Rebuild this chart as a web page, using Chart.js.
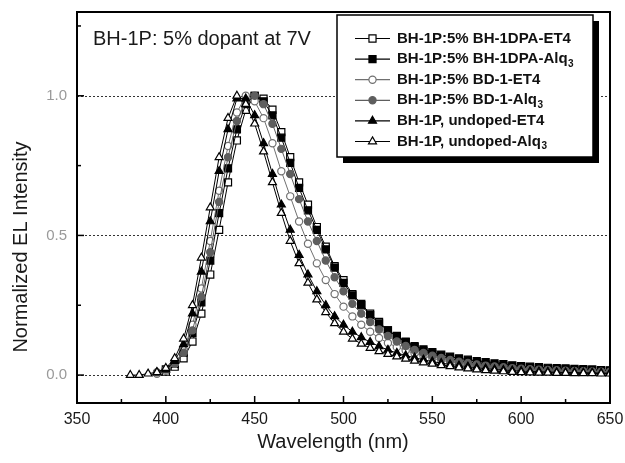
<!DOCTYPE html>
<html>
<head>
<meta charset="utf-8">
<script src="https://cdn.jsdelivr.net/npm/chart.js@4.4.1/dist/chart.umd.min.js"></script>
<style>
    body { margin: 0; background: #fff; }
    #wrap { width: 625px; height: 463px; }
</style>
</head>
<body>
<div id="wrap"><canvas id="elChart" width="625" height="463"></canvas></div>
<script>
// wavelength grid (nm) and normalized EL, null = no point
const wavelengths = [380, 385, 390, 395, 400, 405, 410, 415, 420, 425, 430, 435, 440, 445, 450, 455, 460, 465, 470, 475,
    480, 485, 490, 495, 500, 505, 510, 515, 520, 525, 530, 535, 540, 545, 550, 555, 560, 565, 570, 575,
    580, 585, 590, 595, 600, 605, 610, 615, 620, 625, 630, 635, 640, 645, 650];

const dpaEt4 = [null, null, null, null, 0.012, 0.03, 0.06, 0.12, 0.22, 0.36, 0.52, 0.69, 0.84, 0.95, 1.0, 0.99, 0.95, 0.87, 0.78, 0.69,
    0.61, 0.53, 0.46, 0.39, 0.34, 0.29, 0.255, 0.22, 0.19, 0.16, 0.138, 0.118, 0.10, 0.087, 0.076, 0.067, 0.059, 0.052, 0.047, 0.042,
    0.038, 0.035, 0.032, 0.03, 0.028, 0.026, 0.024, 0.022, 0.021, 0.02, 0.019, 0.018, 0.017, 0.016, 0.015];

const dpaAlq3 = [null, null, null, null, 0.02, 0.04, 0.08, 0.15, 0.26, 0.41, 0.58, 0.74, 0.88, 0.97, 1.0, 0.98, 0.93, 0.85, 0.76, 0.67,
    0.59, 0.52, 0.45, 0.385, 0.33, 0.285, 0.25, 0.215, 0.185, 0.16, 0.14, 0.12, 0.104, 0.092, 0.082, 0.073, 0.066, 0.06, 0.055, 0.05,
    0.046, 0.042, 0.039, 0.035, 0.032, 0.03, 0.028, 0.026, 0.025, 0.024, 0.022, 0.021, 0.02, 0.018, 0.017];

const bd1Et4 = [null, null, null, 0.005, 0.015, 0.04, 0.09, 0.18, 0.31, 0.48, 0.66, 0.82, 0.94, 1.0, 0.98, 0.92, 0.83, 0.73, 0.64, 0.55,
    0.47, 0.40, 0.34, 0.29, 0.245, 0.21, 0.18, 0.155, 0.133, 0.115, 0.10, 0.088, 0.077, 0.068, 0.06, 0.053, 0.047, 0.042, 0.037, 0.033,
    0.03, 0.027, 0.024, 0.022, 0.02, 0.018, 0.017, 0.016, 0.015, 0.014, 0.013, 0.012, 0.011, 0.011, 0.01];

const bd1Alq3 = [null, null, null, 0.01, 0.02, 0.04, 0.08, 0.16, 0.28, 0.44, 0.62, 0.78, 0.91, 0.98, 1.0, 0.97, 0.90, 0.81, 0.72, 0.63,
    0.55, 0.48, 0.41, 0.35, 0.30, 0.255, 0.22, 0.19, 0.163, 0.14, 0.12, 0.104, 0.09, 0.079, 0.069, 0.061, 0.054, 0.048, 0.043, 0.038,
    0.034, 0.031, 0.028, 0.025, 0.023, 0.021, 0.019, 0.018, 0.017, 0.016, 0.015, 0.014, 0.013, 0.012, 0.012];

const undopedEt4 = [null, null, null, 0.01, 0.02, 0.05, 0.11, 0.22, 0.37, 0.55, 0.73, 0.88, 0.99, 0.99, 0.93, 0.83, 0.72, 0.61, 0.52, 0.43,
    0.36, 0.30, 0.25, 0.21, 0.18, 0.155, 0.135, 0.118, 0.103, 0.09, 0.079, 0.07, 0.062, 0.055, 0.048, 0.043, 0.038, 0.034, 0.03, 0.026,
    0.023, 0.02, 0.018, 0.016, 0.014, 0.013, 0.012, 0.011, 0.01, 0.009, 0.009, 0.008, 0.008, 0.007, 0.007];

const undopedAlq3 = [0, 0, 0.005, 0.01, 0.025, 0.06, 0.13, 0.25, 0.42, 0.60, 0.78, 0.92, 1.0, 0.97, 0.90, 0.80, 0.69, 0.58, 0.48, 0.40,
    0.33, 0.27, 0.225, 0.185, 0.155, 0.13, 0.112, 0.097, 0.085, 0.075, 0.066, 0.058, 0.051, 0.045, 0.04, 0.035, 0.031, 0.027, 0.023, 0.02,
    0.017, 0.015, 0.013, 0.011, 0.01, 0.009, 0.008, 0.008, 0.007, 0.007, 0.006, 0.006, 0.006, 0.005, 0.005];

const seriesNames = ['BH-1P:5% BH-1DPA-ET4', 'BH-1P:5% BH-1DPA-Alq3', 'BH-1P:5% BD-1-ET4',
    'BH-1P:5% BD-1-Alq3', 'BH-1P, undoped-ET4', 'BH-1P, undoped-Alq3'];
const seriesValues = [dpaEt4, dpaAlq3, bd1Et4, bd1Alq3, undopedEt4, undopedAlq3];

const xMinorTicks = [375, 425, 475, 525, 575, 625];
const yLabelTicks = [0, 0.5, 1.0];
const yMinorTicks = [0.25, 0.75, 1.25];
const noteText = 'BH-1P: 5% dopant at 7V';
const xTitle = 'Wavelength (nm)';
const yTitle = 'Normalized EL Intensity';

const seriesStyles = [
    { pointStyle: 'rect', radius: 5, fill: '#fff', edge: '#000', line: '#000' },
    { pointStyle: 'rect', radius: 5, fill: '#000', edge: '#000', line: '#000' },
    { pointStyle: 'circle', radius: 3.6, fill: '#fff', edge: '#707070', line: '#707070' },
    { pointStyle: 'circle', radius: 3.6, fill: '#5e5e5e', edge: '#5e5e5e', line: '#5e5e5e' },
    { pointStyle: 'triangle', radius: 4.6, fill: '#000', edge: '#000', line: '#000' },
    { pointStyle: 'triangle', radius: 4.6, fill: '#fff', edge: '#000', line: '#000' }
];

const FONT = '"Liberation Sans", Arial, sans-serif';

const datasets = seriesValues.map((vals, i) => {
    const s = seriesStyles[i];
    return {
        label: seriesNames[i],
        data: wavelengths.map((w, j) => ({ x: w, y: vals[j] })).filter(p => p.y !== null),
        showLine: true,
        borderColor: s.line,
        borderWidth: 1,
        pointStyle: s.pointStyle,
        pointRadius: s.radius,
        pointBackgroundColor: s.fill,
        pointBorderColor: s.edge,
        pointBorderWidth: 1.2,
        clip: 0,
        order: seriesValues.length - i
    };
});

function drawLabel(ctx, text, x, y, font, subFont) {
    // "Alq3" gets its 3 as a subscript
    if (text.endsWith('Alq3')) {
        const main = text.slice(0, -1);
        ctx.font = font;
        ctx.fillText(main, x, y);
        const w = ctx.measureText(main).width;
        ctx.font = subFont;
        ctx.fillText('3', x + w + 0.5, y + 5);
    } else {
        ctx.font = font;
        ctx.fillText(text, x, y);
    }
}

const decor = {
    id: 'decor',
    beforeDatasetsDraw(chart) {
        const { ctx, chartArea: a, scales: { y } } = chart;
        ctx.save();
        ctx.strokeStyle = '#333';
        ctx.lineWidth = 1;
        ctx.setLineDash([2, 2]);
        yLabelTicks.forEach(v => {
            const py = Math.round(y.getPixelForValue(v)) + 0.5;
            ctx.beginPath();
            ctx.moveTo(a.left, py);
            ctx.lineTo(a.right, py);
            ctx.stroke();
        });
        ctx.restore();
    },
    afterDatasetsDraw(chart) {
        const { ctx, chartArea: a, scales: { x, y } } = chart;
        ctx.save();

        // frame
        ctx.strokeStyle = '#000';
        ctx.lineWidth = 2;
        ctx.strokeRect(a.left, a.top, a.right - a.left, a.bottom - a.top);

        // inward tick marks
        ctx.lineWidth = 1.5;
        x.ticks.forEach(t => {
            const px = x.getPixelForValue(t.value);
            ctx.beginPath(); ctx.moveTo(px, a.bottom); ctx.lineTo(px, a.bottom - 7); ctx.stroke();
        });
        xMinorTicks.forEach(v => {
            const px = x.getPixelForValue(v);
            ctx.beginPath(); ctx.moveTo(px, a.bottom); ctx.lineTo(px, a.bottom - 4); ctx.stroke();
        });
        yLabelTicks.forEach(v => {
            const py = y.getPixelForValue(v);
            ctx.beginPath(); ctx.moveTo(a.left, py); ctx.lineTo(a.left + 7, py); ctx.stroke();
        });
        yMinorTicks.forEach(v => {
            const py = y.getPixelForValue(v);
            ctx.beginPath(); ctx.moveTo(a.left, py); ctx.lineTo(a.left + 4, py); ctx.stroke();
        });

        // axis titles
        ctx.fillStyle = '#1a1a1a';
        ctx.textAlign = 'center';
        ctx.textBaseline = 'middle';
        ctx.font = '20px ' + FONT;
        ctx.fillText(xTitle, 333, 442);
        ctx.save();
        ctx.translate(21, 247);
        ctx.rotate(-Math.PI / 2);
        ctx.fillText(yTitle, 0, 0);
        ctx.restore();

        // note in the top left corner
        ctx.textAlign = 'left';
        ctx.textBaseline = 'alphabetic';
        ctx.font = '20px ' + FONT;
        ctx.fillText(noteText, 93, 45);

        // legend box with drop shadow
        const lg = { left: 337, top: 15, width: 256, height: 142, shadow: 6 };
        ctx.fillStyle = '#000';
        ctx.fillRect(lg.left + lg.shadow, lg.top + lg.shadow, lg.width, lg.height);
        ctx.fillStyle = '#fff';
        ctx.fillRect(lg.left, lg.top, lg.width, lg.height);
        ctx.lineWidth = 1.5;
        ctx.strokeStyle = '#000';
        ctx.strokeRect(lg.left, lg.top, lg.width, lg.height);

        seriesNames.forEach((name, i) => {
            const s = seriesStyles[i];
            const ry = 38.5 + i * 20.6;
            ctx.strokeStyle = s.line;
            ctx.lineWidth = 1.2;
            ctx.beginPath(); ctx.moveTo(355, ry); ctx.lineTo(390, ry); ctx.stroke();
            ctx.fillStyle = s.fill;
            ctx.strokeStyle = s.edge;
            Chart.helpers.drawPoint(ctx, { pointStyle: s.pointStyle, radius: s.radius, rotation: 0, borderWidth: 1.2 }, 372.5, ry);
            ctx.fillStyle = '#111';
            ctx.textBaseline = 'middle';
            drawLabel(ctx, name, 397, ry, 'bold 15px ' + FONT, 'bold 10px ' + FONT);
        });

        ctx.restore();
    }
};

new Chart(document.getElementById('elChart').getContext('2d'), {
    type: 'scatter',
    data: { datasets: datasets },
    options: {
        responsive: false,
        animation: false,
        layout: { padding: { top: 12, right: 15, left: 0, bottom: 0 } },
        plugins: {
            legend: { display: false },
            tooltip: { enabled: false }
        },
        scales: {
            x: {
                type: 'linear',
                min: 350,
                max: 650,
                ticks: { stepSize: 50, color: '#1a1a1a', font: { size: 16, family: FONT }, padding: 7, maxRotation: 0 },
                grid: { display: false, drawTicks: false },
                border: { display: false },
                afterFit(s) { s.height = 60; s.paddingLeft = 0; s.paddingRight = 0; }
            },
            y: {
                type: 'linear',
                min: -0.1,
                max: 1.3,
                afterBuildTicks(s) { s.ticks = yLabelTicks.map(v => ({ value: v })); },
                ticks: { callback: v => v.toFixed(1), color: '#9a9a9a', font: { size: 15, family: FONT }, padding: 10 },
                grid: { display: false, drawTicks: false },
                border: { display: false },
                afterFit(s) { s.width = 77; s.paddingTop = 0; s.paddingBottom = 0; }
            }
        }
    },
    plugins: [decor]
});
</script>
</body>
</html>
